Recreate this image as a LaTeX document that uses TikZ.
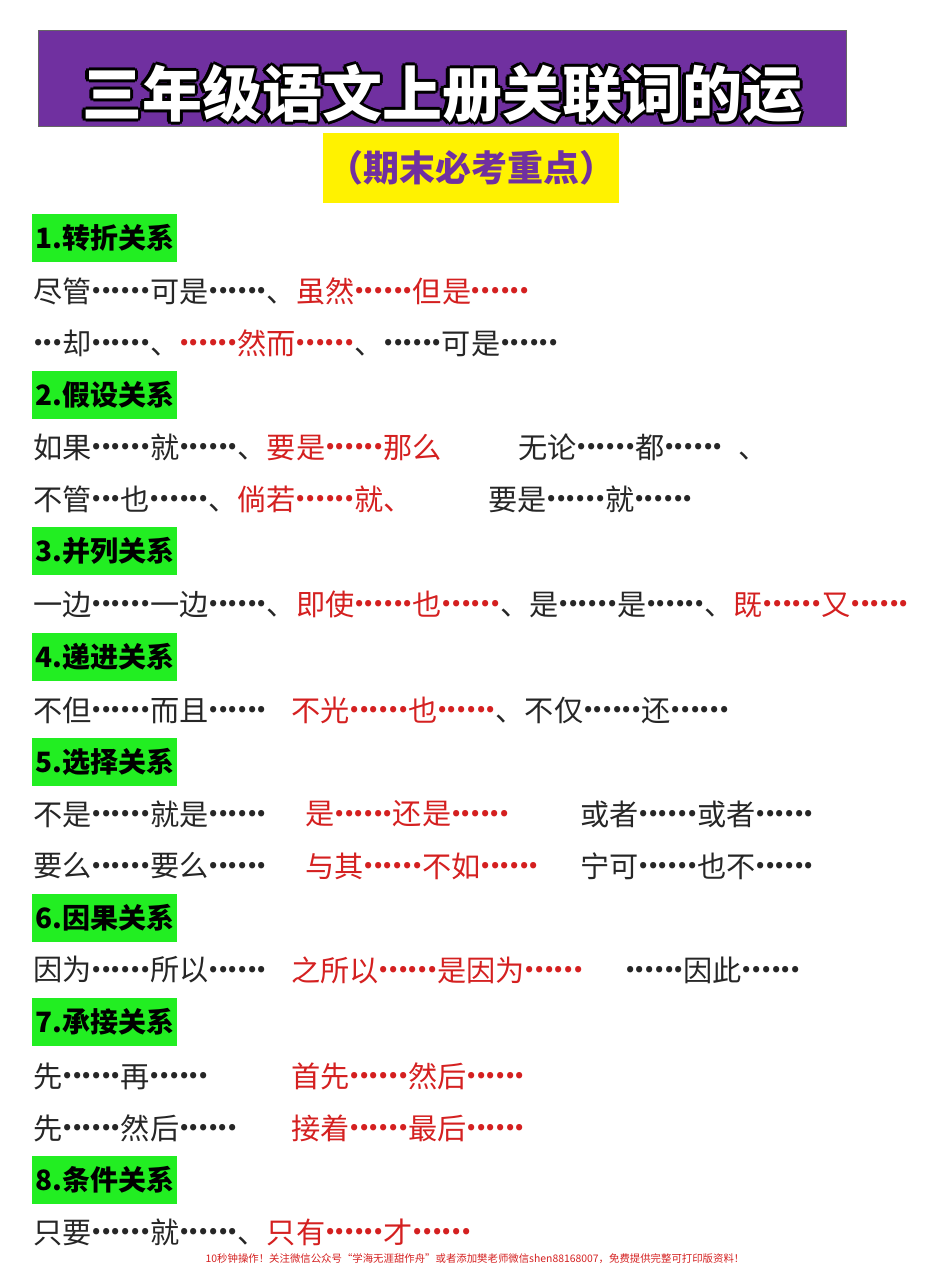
\documentclass[tikz,border=0pt]{standalone}
\usepackage{fontspec}
\setmainfont{Noto Sans CJK SC}
\usetikzlibrary{positioning}
\definecolor{titlepurple}{HTML}{7030A0}
\definecolor{hlred}{HTML}{D42020}
\definecolor{tagreen}{HTML}{22EE22}
\newcommand\dt{\makebox[0.333em]{\raisebox{0.3em}{\bfseries.}}}
\newcommand\el{\dt\dt\dt}
\catcode`\…=\active
\def…{\el}
\tikzstyle{tag} = [fill=tagreen, anchor=west, minimum width=72.5pt, minimum height=24pt,
    inner sep=1pt, font=\fontsize{14}{14}\selectfont\bfseries, text=black]
\tikzstyle{item} = [anchor=west, inner sep=0pt, font=\fontsize{14.6}{14}\selectfont, text=black!85]
\tikzstyle{red} = [item, text=hlred]
\begin{document}
\begin{tikzpicture}[x=0.5pt, y=-0.5pt]
  \useasboundingbox (0,0) rectangle (950,1267);
  % title
  \node [fill=titlepurple, draw=black!60, minimum width=404pt, minimum height=48pt,
    anchor=north west, inner sep=0pt] (banner) at (38,30) {};
  \foreach \dx/\dy in {-1.6/0,1.6/0,0/-1.6,0/1.6,-1.1/-1.1,1.1/1.1,-1.1/1.1,1.1/-1.1}
    \node [font=\fontsize{30}{30}\selectfont\bfseries, text=black] at ([xshift=\dx pt, yshift=\dy pt]442,94) {三年级语文上册关联词的运};
  \node [font=\fontsize{30}{30}\selectfont\bfseries, text=white] (title) at (442,94) {三年级语文上册关联词的运};
  \node [fill=yellow, minimum width=148pt, minimum height=35pt, inner sep=0pt,
    font=\fontsize{18}{18}\selectfont\bfseries, text=titlepurple] (sub) at (471,168) {（期末必考重点）};

  % sections
  \node [tag] (t1) at (32,238) {1.转折关系};
  \node [item] (l1) at (33,291) {尽管……可是……、\textcolor{hlred}{虽然……但是……}};
  \node [item] (l2) at (33,343) {…却……、\textcolor{hlred}{……然而……}、……可是……};

  \node [tag] (t2) at (32,395) {2.假设关系};
  \node [item] (l3) at (33,447) {如果……就……、\textcolor{hlred}{要是……那么}};
  \node [item] (l3b) at (518,447) {无论……都……\hspace{8pt}、};
  \node [item] (l4) at (33,499) {不管…也……、\textcolor{hlred}{倘若……就、}};
  \node [item] (l4b) at (488,499) {要是……就……};

  \node [tag] (t3) at (32,551) {3.并列关系};
  \node [item] (l5) at (33,604) {一边……一边……、\textcolor{hlred}{即使……也……}、是……是……、\textcolor{hlred}{既……又……}};

  \node [tag] (t4) at (32,657) {4.递进关系};
  \node [item] (l6) at (33,710) {不但……而且……};
  \node [item] (l6b) at (291,710) {\textcolor{hlred}{不光……也……}、不仅……还……};

  \node [tag] (t5) at (32,762) {5.选择关系};
  \node [item] (l7) at (33,814) {不是……就是……};
  \node [red] (l7b) at (305,814) {是……还是……};
  \node [item] (l7c) at (580,814) {或者……或者……};
  \node [item] (l8) at (33,866) {要么……要么……};
  \node [red] (l8b) at (305,866) {与其……不如……};
  \node [item] (l8c) at (580,866) {宁可……也不……};

  \node [tag] (t6) at (32,918) {6.因果关系};
  \node [item] (l9) at (33,970) {因为……所以……};
  \node [red] (l9b) at (291,970) {之所以……是因为……};
  \node [item] (l9c) at (625,970) {……因此……};

  \node [tag] (t7) at (32,1022) {7.承接关系};
  \node [item] (l10) at (33,1076) {先……再……};
  \node [red] (l10b) at (291,1076) {首先……然后……};
  \node [item] (l11) at (33,1128) {先……然后……};
  \node [red] (l11b) at (291,1128) {接着……最后……};

  \node [tag] (t8) at (32,1180) {8.条件关系};
  \node [item] (l12) at (33,1232) {只要……就……、\textcolor{hlred}{只有……才……}};

  % footer
  \node [font=\fontsize{5.2}{6}\selectfont, text=hlred] (foot) at (475,1259)
    {10秒钟操作！关注微信公众号“学海无涯甜作舟”或者添加樊老师微信shen88168007，免费提供完整可打印版资料！};
\end{tikzpicture}
\end{document}
